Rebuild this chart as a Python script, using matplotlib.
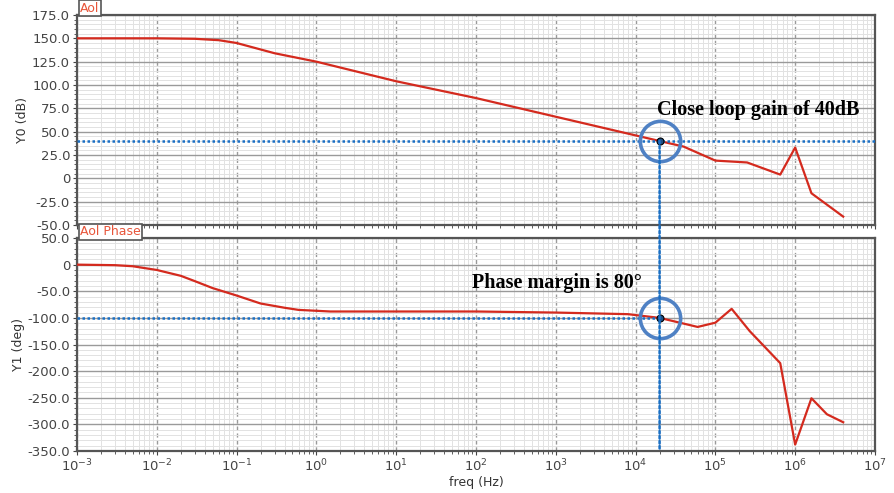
import matplotlib.pyplot as plt
from matplotlib.ticker import FixedLocator, LogLocator, MultipleLocator, AutoMinorLocator, FuncFormatter
from matplotlib.patches import ConnectionPatch

# Open loop gain
freq_mag = [1e-3, 1e-2, 3e-2, 6e-2, 1e-1, 3e-1, 1e0, 1e1, 1e2, 1e3, 1e4, 2e4, 4e4,
            1e5, 2.5e5, 6.5e5, 1e6, 1.6e6, 4e6]
mag_db = [150, 150, 149.5, 148, 145, 134, 125, 104, 86, 66, 46, 40, 34,
          19, 17, 4, 33, -16, -41]

# Open loop phase
freq_ph = [1e-3, 3e-3, 5e-3, 1e-2, 2e-2, 3e-2, 5e-2, 1e-1, 2e-1, 4e-1, 6e-1, 1.5,
           1e1, 1e2, 1e3, 8e3, 2e4, 6e4, 1e5, 1.6e5, 2.7e5, 6.5e5, 1e6, 1.6e6, 2.5e6, 4e6]
phase_deg = [0, -1, -3, -10, -21, -31, -44, -58, -73, -81, -85, -88,
             -88, -88, -90, -93, -100, -117, -109, -83, -125, -185, -338, -251, -281, -296]

decades = [10.0 ** k for k in range(-3, 8)]

f_cross = 2e4
gain_cl = 40
phase_cross = -100

red = '#d42a1e'
blue = '#1a6fc4'
ring = '#4f81c4'

fig = plt.figure(figsize=(8.94, 4.93), dpi=100)
ax1 = fig.add_axes([0.0861, 0.5436, 0.8926, 0.4260])
ax2 = fig.add_axes([0.0861, 0.0852, 0.8926, 0.4320], sharex=ax1)


def fmt(v, pos):
    return '0' if abs(v) < 1e-9 else '%.1f' % v


for ax in (ax1, ax2):
    ax.set_xscale('log')
    ax.set_xlim(1e-3, 1e7)
    ax.xaxis.set_major_locator(FixedLocator(decades))
    ax.xaxis.set_minor_locator(LogLocator(base=10, subs=range(2, 10), numticks=100))
    ax.yaxis.set_minor_locator(AutoMinorLocator(5))
    ax.yaxis.set_major_formatter(FuncFormatter(fmt))
    ax.grid(True, which='minor', color='#e2e2e2', linewidth=0.7)
    ax.grid(True, which='major', axis='y', color='#9a9a9a', linewidth=1.0)
    ax.grid(True, which='major', axis='x', color='#9a9a9a', linewidth=1.0, linestyle=(0, (3, 2)))
    ax.set_axisbelow(True)
    for s in ax.spines.values():
        s.set_color('#555555')
        s.set_linewidth(1.6)
    ax.tick_params(which='both', direction='out', colors='#444444', labelsize=9.5, length=3, pad=2)
    ax.tick_params(which='minor', length=2)

ax1.set_ylim(-50, 175)
ax1.yaxis.set_major_locator(MultipleLocator(25))
ax1.tick_params(axis='x', which='both', labelbottom=False)
ax2.set_ylim(-350, 50)
ax2.yaxis.set_major_locator(MultipleLocator(50))

ax1.plot(freq_mag, mag_db, color=red, linewidth=1.6, zorder=3)
ax2.plot(freq_ph, phase_deg, color=red, linewidth=1.6, zorder=3)

ax1.set_ylabel('Y0 (dB)', fontsize=9, color='#333333', labelpad=2)
ax2.set_ylabel('Y1 (deg)', fontsize=9, color='#333333', labelpad=2)
ax2.set_xlabel('freq (Hz)', fontsize=9, color='#333333', labelpad=1)

# trace name tabs
ax1.text(0.004, 1.0, 'Aol', transform=ax1.transAxes, color='#e8553a', fontsize=9,
         va='bottom', ha='left',
         bbox=dict(boxstyle='square,pad=0.12', facecolor='white', edgecolor='#555555', linewidth=1.2))
ax2.text(0.004, 1.0, 'Aol Phase', transform=ax2.transAxes, color='#e8553a', fontsize=9,
         va='bottom', ha='left',
         bbox=dict(boxstyle='square,pad=0.12', facecolor='white', edgecolor='#555555', linewidth=1.2))

# markers for crossover
ax1.axhline(gain_cl, color=blue, linewidth=1.8, linestyle=(0, (1, 1)), zorder=4)
ax2.plot([1e-3, f_cross], [phase_cross, phase_cross], color=blue, linewidth=1.8,
         linestyle=(0, (1, 1)), zorder=4)
con = ConnectionPatch(xyA=(f_cross, gain_cl), coordsA=ax1.transData,
                      xyB=(f_cross, -350), coordsB=ax2.transData,
                      color=blue, linewidth=1.8, linestyle=(0, (1, 1)), zorder=4)
fig.add_artist(con)

for ax, yv in ((ax1, gain_cl), (ax2, phase_cross)):
    ax.plot([f_cross], [yv], marker='o', markersize=29, markerfacecolor='none',
            markeredgecolor=ring, markeredgewidth=2.6, zorder=5)
    ax.plot([f_cross], [yv], marker='o', markersize=5, markerfacecolor='#1d4f86',
            markeredgecolor='black', markeredgewidth=0.8, zorder=6)

ax1.text(0.727, 0.548, 'Close loop gain of 40dB', transform=ax1.transAxes,
         fontfamily='Liberation Serif', fontweight='bold', fontsize=14.5, va='center')
ax2.text(0.495, 0.789, 'Phase margin is 80°', transform=ax2.transAxes,
         fontfamily='Liberation Serif', fontweight='bold', fontsize=14.5, va='center')

fig.savefig('out.png', dpi=100)
